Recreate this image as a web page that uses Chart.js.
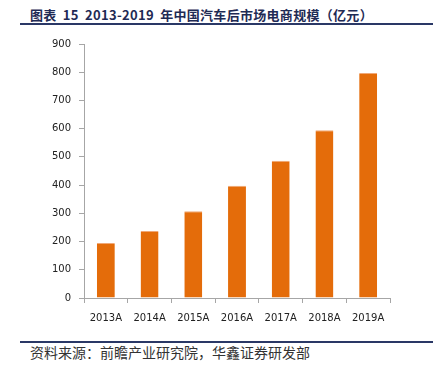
<!DOCTYPE html>
<html>
<head>
    <title>2013-2019 年中国汽车后市场电商规模</title>
    <script src="https://cdn.jsdelivr.net/npm/chart.js"></script>
    <style>
        body { margin: 0; width: 446px; height: 370px; background: #fff; position: relative; overflow: hidden; }
        #title { position: absolute; left: 30px; top: 5px; font: bold 13px "Noto Sans CJK SC", sans-serif; color: #1f2b55; white-space: nowrap; word-spacing: 3px; letter-spacing: 0.3px; }
        #topline { position: absolute; left: 20px; top: 23px; width: 413px; height: 2px; background: #2a3866; }
        #bottomline { position: absolute; left: 20px; top: 341px; width: 413px; height: 2px; background: #2a3866; }
        #source { position: absolute; left: 30px; top: 342px; font: 14px "Noto Sans CJK SC", sans-serif; color: #333; white-space: nowrap; }
        #wrap { position: absolute; left: 0; top: 30px; width: 446px; height: 303px; }
    </style>
</head>
<body>
    <div id="title">图表 15 2013-2019 年中国汽车后市场电商规模（亿元）</div>
    <div id="topline"></div>
    <div id="wrap"><canvas id="marketChart"></canvas></div>
    <div id="bottomline"></div>
    <div id="source">资料来源：前瞻产业研究院，华鑫证券研发部</div>

    <script>
        const years = ['2013A', '2014A', '2015A', '2016A', '2017A', '2018A', '2019A'];
        const scale = [195, 237, 307, 398, 486, 594, 797];
        const yTicks = [0, 100, 200, 300, 400, 500, 600, 700, 800, 900];

        const axisGray = '#a6a6a6';
        const tickFont = { family: 'DejaVu Sans', size: 10 };

        new Chart(document.getElementById('marketChart'), {
            type: 'bar',
            data: {
                labels: years,
                datasets: [{
                    data: scale,
                    backgroundColor: '#e46c0a',
                    borderColor: '#f0a877',
                    borderWidth: { top: 1, left: 0, right: 0, bottom: 0 },
                    borderSkipped: 'bottom',
                    barPercentage: 0.41,
                    categoryPercentage: 1
                }]
            },
            options: {
                responsive: true,
                maintainAspectRatio: false,
                animation: false,
                layout: { padding: { top: 1, right: 56, bottom: 0, left: 0 } },
                plugins: { legend: { display: false }, tooltip: { enabled: false } },
                scales: {
                    x: {
                        offset: true,
                        grid: { offset: true, drawOnChartArea: false, tickLength: 5, tickColor: axisGray },
                        border: { color: axisGray, width: 1 },
                        ticks: { color: '#222', font: tickFont, padding: 9, maxRotation: 0 }
                    },
                    y: {
                        min: 0,
                        max: 900,
                        afterBuildTicks: axis => { axis.ticks = yTicks.map(v => ({ value: v })); },
                        afterFit: axis => { axis.width = 84; },
                        grid: { drawOnChartArea: false, tickLength: 5, tickColor: axisGray },
                        border: { color: axisGray, width: 1 },
                        ticks: { color: '#222', font: tickFont, padding: 8 }
                    }
                }
            }
        });
    </script>
</body>
</html>
